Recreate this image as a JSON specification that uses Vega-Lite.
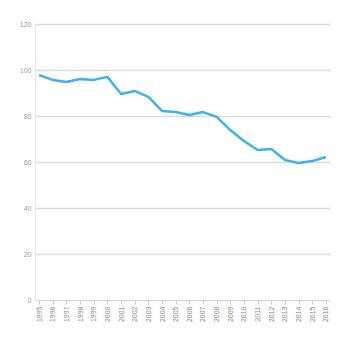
{
  "$schema": "https://vega.github.io/schema/vega-lite/v6.json",
  "autosize": {"type": "none"},
  "width": 295,
  "height": 276,
  "padding": {"left": 35, "top": 24, "right": 12, "bottom": 40},
  "background": "white",
  "config": {"view": {"stroke": null}},
  "data": {"values": [
    {"year": 1995, "value": 97.8},
    {"year": 1996, "value": 95.7},
    {"year": 1997, "value": 94.8},
    {"year": 1998, "value": 96.1},
    {"year": 1999, "value": 95.7},
    {"year": 2000, "value": 97.0},
    {"year": 2001, "value": 89.6},
    {"year": 2002, "value": 90.9},
    {"year": 2003, "value": 88.3},
    {"year": 2004, "value": 82.2},
    {"year": 2005, "value": 81.7},
    {"year": 2006, "value": 80.4},
    {"year": 2007, "value": 81.7},
    {"year": 2008, "value": 79.6},
    {"year": 2009, "value": 73.9},
    {"year": 2010, "value": 69.1},
    {"year": 2011, "value": 65.2},
    {"year": 2012, "value": 65.7},
    {"year": 2013, "value": 60.9},
    {"year": 2014, "value": 59.6},
    {"year": 2015, "value": 60.4},
    {"year": 2016, "value": 62.2}
  ]},
  "mark": {"type": "line", "color": "#3db3e6", "strokeWidth": 2.5, "strokeJoin": "round"},
  "encoding": {
    "x": {
      "field": "year", "type": "quantitative",
      "scale": {"domain": [1994.7, 2016.3], "nice": false, "zero": false},
      "axis": {
        "title": null, "format": "d", "labelAngle": -90, "labelFontSize": 7,
        "labelColor": "#888", "tickColor": "#ccc", "domainColor": "#ddd",
        "values": [1995,1996,1997,1998,1999,2000,2001,2002,2003,2004,2005,2006,2007,2008,2009,2010,2011,2012,2013,2014,2015,2016],
        "grid": false, "tickSize": 4
      }
    },
    "y": {
      "field": "value", "type": "quantitative",
      "scale": {"domain": [0, 120], "nice": false},
      "axis": {
        "title": null, "values": [0, 20, 40, 60, 80, 100, 120],
        "labelFontSize": 7, "labelColor": "#999", "gridColor": "#dcdcdc",
        "gridWidth": 1.5, "domainColor": "#e8e8e8", "ticks": false, "labelPadding": 4
      }
    }
  }
}
